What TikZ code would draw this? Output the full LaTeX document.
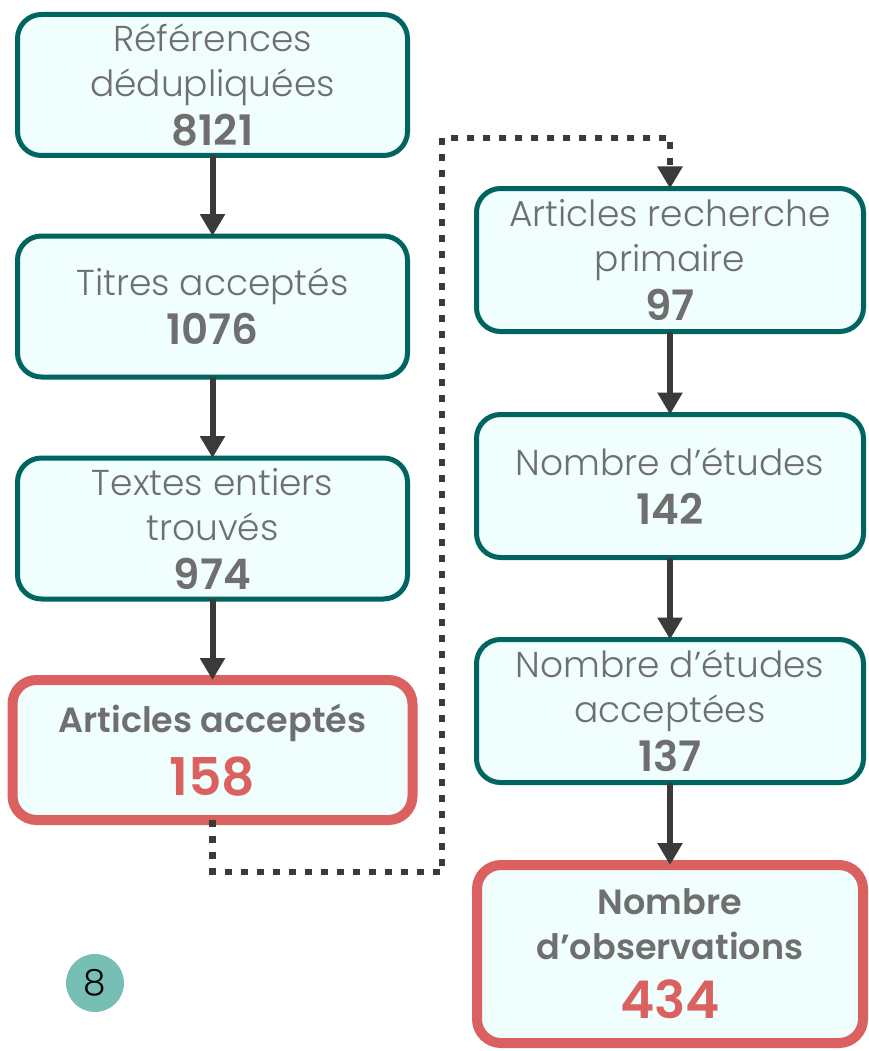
\documentclass[tikz,border=0pt]{standalone}
\usepackage{fontspec}
\setmainfont{Poppins}[UprightFont=* Light, BoldFont=* SemiBold]
\usetikzlibrary{arrows.meta}
\definecolor{teal}{HTML}{006461}
\definecolor{boxfill}{HTML}{F0FFFE}
\definecolor{txtgray}{HTML}{6F6F6F}
\definecolor{hired}{HTML}{DB6060}
\definecolor{arrowgray}{HTML}{3A3A3A}
\definecolor{badge}{HTML}{77BFB4}
\tikzset{
  stepbox/.style={draw=teal, line width=5pt, fill=boxfill, rounded corners=24pt,
    inner sep=0pt, outer sep=0pt, align=center, text=txtgray,
    font=\fontsize{36}{45}\selectfont},
  leftbox/.style={stepbox, minimum width=390pt, minimum height=141pt},
  rightbox/.style={stepbox, minimum width=387pt, minimum height=143pt},
  keybox/.style={stepbox, draw=hired, line width=10pt, font=\bfseries\fontsize{35}{45}\selectfont},
  flow/.style={draw=arrowgray, line width=6pt, -{Triangle[width=24pt,length=22pt]}},
  dotflow/.style={draw=arrowgray, line width=6.5pt, dash pattern=on 7pt off 9pt,
    -{Triangle[width=24pt,length=22pt]}},
}
\newcommand{\bignum}[1]{{\fontsize{52}{62}\selectfont\color{hired}#1}}
\newcommand{\cnt}[1]{{\fontsize{42}{45}\selectfont\bfseries #1}}
\begin{document}
\begin{tikzpicture}[x=1pt,y=-1pt]
\useasboundingbox (0,0) rectangle (869,1051);
\node[leftbox] (b1) at (212.5,85) {Références\\dédupliquées\\[4pt]\cnt{8121}};
\node[leftbox] (b2) at (212.5,306.5) {Titres acceptés\\[4pt]\cnt{1076}};
\node[leftbox] (b3) at (212.5,528.5) {Textes entiers\\trouvés\\[4pt]\cnt{974}};
\node[keybox, minimum width=400pt, minimum height=140pt] (b4) at (212.5,750) {Articles acceptés\\[14pt]\bignum{158}};
\node[rightbox] (r1) at (670,260) {Articles recherche\\primaire\\[4pt]\cnt{97}};
\node[rightbox] (r2) at (670,486) {Nombre d’études\\[4pt]\cnt{142}};
\node[rightbox] (r3) at (670,711) {Nombre d’études\\acceptées\\[4pt]\cnt{137}};
\node[keybox, minimum width=386pt, minimum height=178pt] (r4) at (670,954) {Nombre\\d’observations\\[14pt]\bignum{434}};
\node[circle, fill=badge, minimum size=58pt, inner sep=0pt, font=\fontsize{36}{38}\selectfont] (badge) at (95,983) {8};
\draw[flow] (b1) -- (b2);
\draw[flow] (b2) -- (b3);
\draw[flow] (b3) -- (b4);
\draw[flow] (r1) -- (r2);
\draw[flow] (r2) -- (r3);
\draw[flow] (r3) -- (r4);
\coordinate (d1) at (212.5,872);
\coordinate (d2) at (442,872);
\coordinate (d3) at (442,138);
\coordinate (d4) at (670,138);
\draw[dotflow] (b4.south) -- (d1) -- (d2) -- (d3) -- (d4) -- (r1.north);
\end{tikzpicture}
\end{document}
